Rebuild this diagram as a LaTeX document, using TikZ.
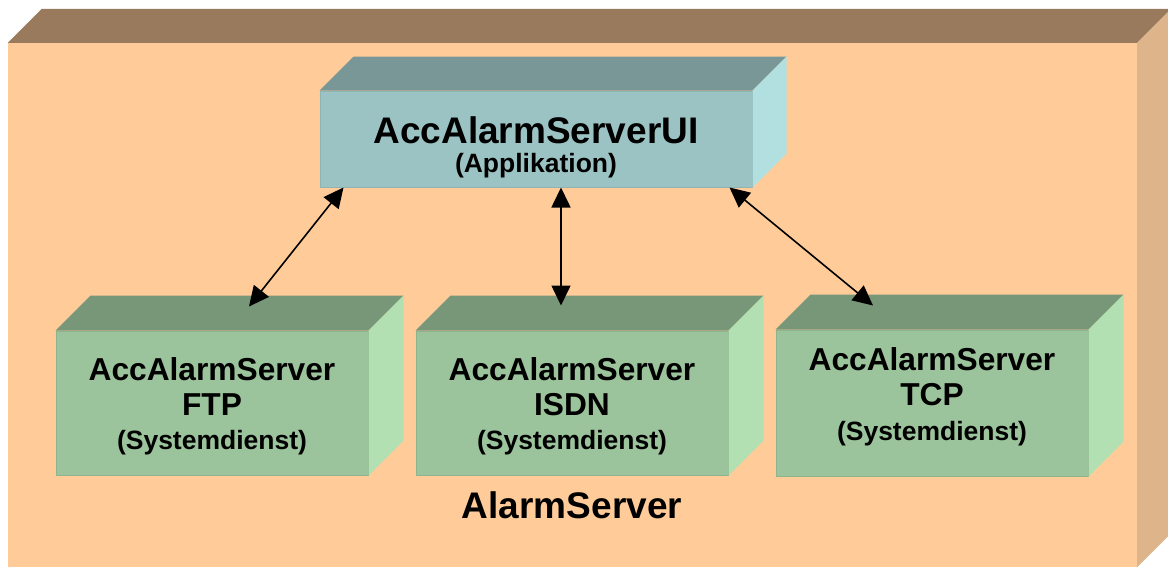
\documentclass[tikz,border=0pt]{standalone}
\usepackage{fontspec}
\setmainfont{Liberation Sans}
\usetikzlibrary{arrows.meta}

\definecolor{hullfront}{HTML}{FFCC99}
\definecolor{hulltop}{HTML}{997A5D}
\definecolor{hullside}{HTML}{DEB48A}
\definecolor{appfront}{HTML}{9CC3C3}
\definecolor{apptop}{HTML}{799797}
\definecolor{appside}{HTML}{B2E0E0}
\definecolor{appedge}{HTML}{8EB4B4}
\definecolor{dienstfront}{HTML}{9CC49C}
\definecolor{diensttop}{HTML}{789678}
\definecolor{dienstside}{HTML}{B2E0B2}
\definecolor{dienstedge}{HTML}{8EB48E}

% top and right faces of a box, drawn round its front node
\newcommand{\boxfaces}[4]{%
  \fill[#3] (#1.north west) -- ([xshift=#2,yshift=#2]#1.north west)
    -- ([xshift=#2,yshift=#2]#1.north east) -- (#1.north east) -- cycle;
  \fill[#4] (#1.north east) -- ([xshift=#2,yshift=#2]#1.north east)
    -- ([xshift=#2,yshift=#2]#1.south east) -- (#1.south east) -- cycle;
}
\newcommand{\notefont}{\fontsize{26.5}{30}\selectfont}

\begin{document}
\begin{tikzpicture}[x=1pt, y=-1pt,
        front/.style={rectangle, inner sep=0pt, align=center},
        app/.style={front, fill=appfront, draw=appedge, line width=1pt, minimum width=432pt, minimum height=96pt,
            font=\bfseries\fontsize{37}{33}\selectfont},
        dienst/.style={front, fill=dienstfront, draw=dienstedge, line width=1pt, minimum width=312pt, minimum height=144pt,
            font=\bfseries\fontsize{31.7}{35}\selectfont},
        arrow/.style={{Triangle[length=20pt,width=19pt]}-{Triangle[length=20pt,width=19pt]}, line width=1.6pt}
    ]
    \useasboundingbox (0,0) rectangle (1168,568);
    \begin{scope}
        \clip (0,0) rectangle (1168,568);
        \node[front, fill=hullfront, minimum width=1129pt, minimum height=524pt] (hull) at (572.5,305) {};
        \boxfaces{hull}{34pt}{hulltop}{hullside}
    \end{scope}
    \node[font=\bfseries\fontsize{37}{40}\selectfont] (hulllabel) at (572,505) {AlarmServer};

    \node[app] (ui) at (536,139) {AccAlarmServerUI\\[-4pt]\notefont (Applikation)\\[-45pt]};
    \boxfaces{ui}{34pt}{apptop}{appside}

    \node[dienst] (ftp) at (212,403) {AccAlarmServer\\FTP\\[-1pt]\notefont (Systemdienst)\\[-37pt]};
    \boxfaces{ftp}{35pt}{diensttop}{dienstside}
    \node[dienst] (isdn) at (572,403) {AccAlarmServer\\ISDN\\[-1pt]\notefont (Systemdienst)\\[-37pt]};
    \boxfaces{isdn}{35pt}{diensttop}{dienstside}
    \node[dienst, minimum height=146pt] (tcp) at (932,403) {AccAlarmServer\\TCP\\\notefont (Systemdienst)\\[-17pt]};
    \boxfaces{tcp}{35pt}{diensttop}{dienstside}

    \draw[arrow] ([xshift=24pt]ui.south west) -- ([xshift=37pt,yshift=24pt]ftp.north);
    \draw[arrow] ([xshift=25pt]ui.south) -- ([xshift=-11pt,yshift=25pt]isdn.north);
    \draw[arrow] ([xshift=-23pt]ui.south east) -- ([xshift=-59pt,yshift=24pt]tcp.north);
\end{tikzpicture}
\end{document}
